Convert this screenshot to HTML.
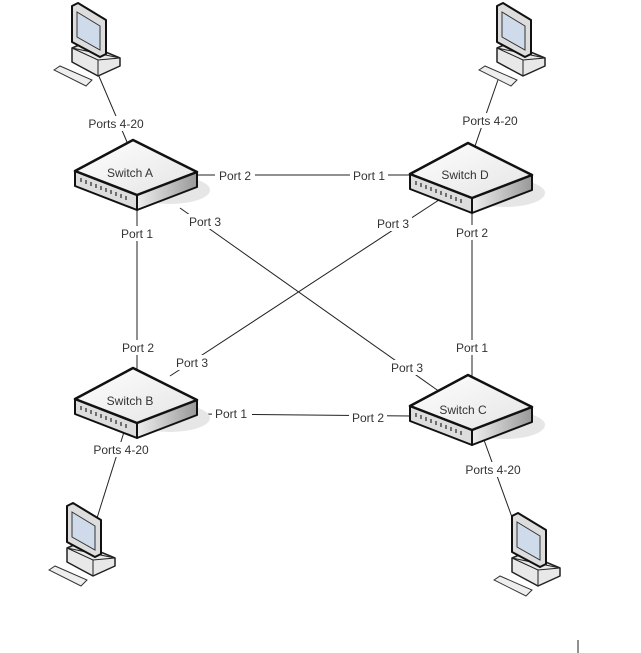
<!DOCTYPE html>
<html><head><style>
body{margin:0;background:#fff;}
svg{display:block;}
text{font-family:"Liberation Sans",sans-serif;font-size:12px;fill:#333;}
</style></head><body>
<svg width="641" height="653" viewBox="0 0 641 653" xmlns="http://www.w3.org/2000/svg">
<defs>
<linearGradient id="top" x1="0" y1="0" x2="1" y2="1"><stop offset="0" stop-color="#fff"/><stop offset="1" stop-color="#e4e4e4"/></linearGradient>
<linearGradient id="side" x1="0" y1="0" x2="1" y2="0"><stop offset="0" stop-color="#eee"/><stop offset="1" stop-color="#999"/></linearGradient>
<g id="sw">
<ellipse cx="95" cy="50" rx="40" ry="14" fill="#e6e6e6"/>
<polygon points="0,31 62,55 62,70 0,46" fill="#ddd" stroke="#111" stroke-width="2" stroke-linejoin="round"/>
<polygon points="62,55 122,32 122,47 62,70" fill="url(#side)" stroke="#111" stroke-width="2" stroke-linejoin="round"/>
<polygon points="58,0 122,32 62,55 0,31" fill="url(#top)" stroke="#111" stroke-width="2.5" stroke-linejoin="round"/>
<g stroke="#333" stroke-width="1.3">
<line x1="6" y1="38" x2="6" y2="42"/><line x1="11" y1="40" x2="11" y2="44"/><line x1="16" y1="42" x2="16" y2="46"/><line x1="21" y1="44" x2="21" y2="48"/><line x1="26" y1="46" x2="26" y2="50"/><line x1="31" y1="48" x2="31" y2="52"/><line x1="36" y1="50" x2="36" y2="54"/><line x1="41" y1="52" x2="41" y2="56"/><line x1="46" y1="54" x2="46" y2="58"/><line x1="51" y1="56" x2="51" y2="60"/>
</g>
</g>
<g id="pc">
<polygon points="54,70 60,66 92,80 86,86" fill="#eee" stroke="#333" stroke-width="1"/>
<polygon points="72,48 84,43 120,58 120,66 98,76 72,62" fill="#e8e8e8" stroke="#222" stroke-width="1.5" stroke-linejoin="round"/>
<polygon points="72,48 98,60 120,58" fill="none" stroke="#222" stroke-width="1"/>
<line x1="98" y1="60" x2="98" y2="76" stroke="#222"/>
<polygon points="72,6 78,3 106,20 106,54 100,57 72,42" fill="#ddd" stroke="#111" stroke-width="2" stroke-linejoin="round"/>
<polygon points="77,12 100,26 100,50 77,37" fill="#cfdbea" stroke="#333" stroke-width="1"/>
</g>
</defs>
<g stroke="#222" stroke-width="1" fill="none">
<line x1="98" y1="74" x2="127" y2="142"/>
<line x1="500" y1="74" x2="475" y2="146"/>
<line x1="197" y1="175" x2="412" y2="175"/>
<line x1="137" y1="205" x2="137" y2="370"/>
<line x1="180" y1="208" x2="440" y2="392"/>
<line x1="445" y1="196" x2="170" y2="376"/>
<line x1="472" y1="205" x2="472" y2="377"/>
<line x1="197" y1="414" x2="412" y2="416"/>
<line x1="124" y1="432" x2="97" y2="518"/>
<line x1="484" y1="440" x2="513" y2="520"/>
<line x1="578" y1="640" x2="578" y2="653"/>
</g>
<g fill="#fff">
<rect x="84" y="116" width="64" height="15"/><rect x="458" y="113" width="64" height="15"/>
<rect x="215" y="168" width="40" height="15"/><rect x="350" y="168" width="38" height="15"/>
<rect x="118" y="226" width="38" height="15"/><rect x="118" y="340" width="40" height="15"/>
<rect x="186" y="214" width="38" height="15"/><rect x="388" y="360" width="38" height="15"/>
<rect x="374" y="216" width="38" height="15"/><rect x="173" y="355" width="38" height="15"/>
<rect x="453" y="225" width="38" height="15"/><rect x="453" y="340" width="38" height="15"/>
<rect x="212" y="406" width="40" height="15"/><rect x="349" y="410" width="38" height="15"/>
<rect x="89" y="442" width="64" height="15"/><rect x="461" y="462" width="64" height="15"/>
</g>
<use href="#sw" x="75" y="140"/>
<use href="#sw" x="410" y="143"/>
<use href="#sw" x="75" y="368"/>
<use href="#sw" x="410" y="375"/>
<use href="#pc" x="0" y="0"/>
<use href="#pc" x="425" y="0"/>
<use href="#pc" x="-5" y="500"/>
<use href="#pc" x="440" y="510"/>
<g text-anchor="middle">
<text x="116" y="128">Ports 4-20</text><text x="490" y="125">Ports 4-20</text>
<text x="235" y="180">Port 2</text><text x="369" y="180">Port 1</text>
<text x="137" y="238">Port 1</text><text x="138" y="352">Port 2</text>
<text x="205" y="226">Port 3</text><text x="407" y="372">Port 3</text>
<text x="393" y="228">Port 3</text><text x="192" y="367">Port 3</text>
<text x="472" y="237">Port 2</text><text x="472" y="352">Port 1</text>
<text x="231" y="418">Port 1</text><text x="368" y="422">Port 2</text>
<text x="121" y="454">Ports 4-20</text><text x="493" y="474">Ports 4-20</text>
<text x="130" y="177">Switch A</text><text x="465" y="179">Switch D</text>
<text x="130" y="405">Switch B</text><text x="463" y="414">Switch C</text>
</g>
</svg>
</body></html>
